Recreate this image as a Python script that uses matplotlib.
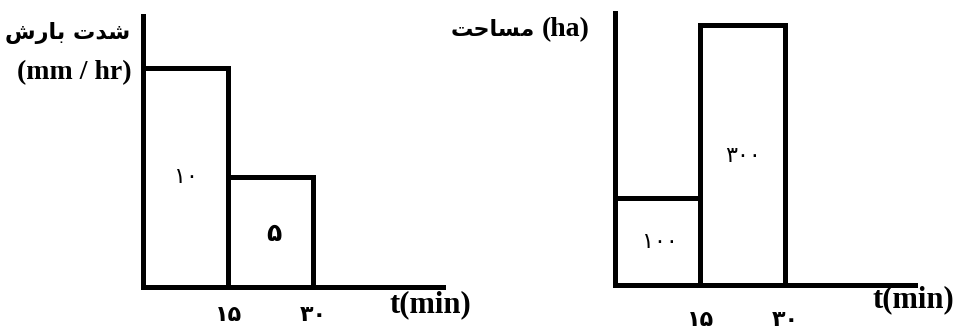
import matplotlib
matplotlib.use("Agg")
import matplotlib.pyplot as plt

# ---- data ----
edges = [0, 15, 30]
intensity = [10, 5]          # mm/hr
area = [100, 300]            # ha
tick_pos = [15, 30]
tick_labels = ["\u06f1\u06f5", "\u06f3\u06f0"]      # ۱۵ ، ۳۰
intensity_labels = ["\u06f1\u06f0", "\u06f5"]       # ۱۰ ، ۵
area_labels = ["\u06f1\u06f0\u06f0", "\u06f3\u06f0\u06f0"]  # ۱۰۰ ، ۳۰۰
# Persian labels in visual (shaped) order
ylabel_left_fa = "\ufeb5\ufead\ufe8e\ufe91 \ufe95\ufeaa\ufeb7"   # شدت بارش
ylabel_left_unit = "(mm / hr)"
ylabel_right_fa = "\ufe96\ufea3\ufe8e\ufeb4\ufee3"                # مساحت
ylabel_right_unit = "(ha)"
xlabel = "t(min)"

W, H = 963, 330
fig = plt.figure(figsize=(W / 100, H / 100), dpi=100)

def px_axes(x0, x1, ybot, ytop):
    return fig.add_axes([x0 / W, 1 - ybot / H, (x1 - x0) / W, (ybot - ytop) / H])

LW = 3.6
fa_font = ["DejaVu Sans"]
lat_font = ["Liberation Serif"]

def style(ax, xmax, ymax, pad):
    ax.set_xlim(0, xmax)
    ax.set_ylim(0, ymax)
    for s in ("top", "right"):
        ax.spines[s].set_visible(False)
    for s in ("left", "bottom"):
        ax.spines[s].set_linewidth(LW)
        ax.spines[s].set_capstyle("projecting")
    ax.set_yticks([])
    ax.set_xticks(tick_pos, tick_labels, fontfamily=fa_font, fontsize=16, fontweight="bold")
    ax.tick_params(axis="x", length=0, pad=pad)
    ax.patch.set_alpha(0)

# left panel
ax1 = px_axes(143, 443, 287, 16)
style(ax1, 52.9, 12.37, 13)
ax1.bar(edges[:-1], intensity, width=15, align="edge", fill=False,
        edgecolor="black", linewidth=LW)
ax1.text(7.5, 5.0, intensity_labels[0], ha="center", va="center",
         fontfamily=fa_font, fontsize=16)
ax1.text(23.0, 2.4, intensity_labels[1], ha="center", va="center",
         fontfamily=fa_font, fontsize=18, fontweight="bold")

# right panel
ax2 = px_axes(615, 915, 285, 13)
style(ax2, 52.9, 313.8, 18)
ax2.bar(edges[:-1], area, width=15, align="edge", fill=False,
        edgecolor="black", linewidth=LW)
ax2.text(8.0, 50, area_labels[0], ha="center", va="center",
         fontfamily=fa_font, fontsize=16)
ax2.text(22.5, 149, area_labels[1], ha="center", va="center",
         fontfamily=fa_font, fontsize=16)

# axis titles (pixel coordinates)
def ptext(x, y, s, fam, size, ha="center", weight="bold"):
    fig.text(x / W, 1 - y / H, s, ha=ha, va="center", fontfamily=fam,
             fontsize=size, fontweight=weight)

ptext(68, 33, ylabel_left_fa, fa_font, 16)
ptext(74, 73, ylabel_left_unit, lat_font, 20)
ptext(430, 305, xlabel, lat_font, 22)
ptext(913, 300, xlabel, lat_font, 22)
ptext(535, 30, ylabel_right_fa, fa_font, 16, ha="right")
ptext(566, 30, ylabel_right_unit, lat_font, 20)

fig.savefig("out.png", dpi=100)
